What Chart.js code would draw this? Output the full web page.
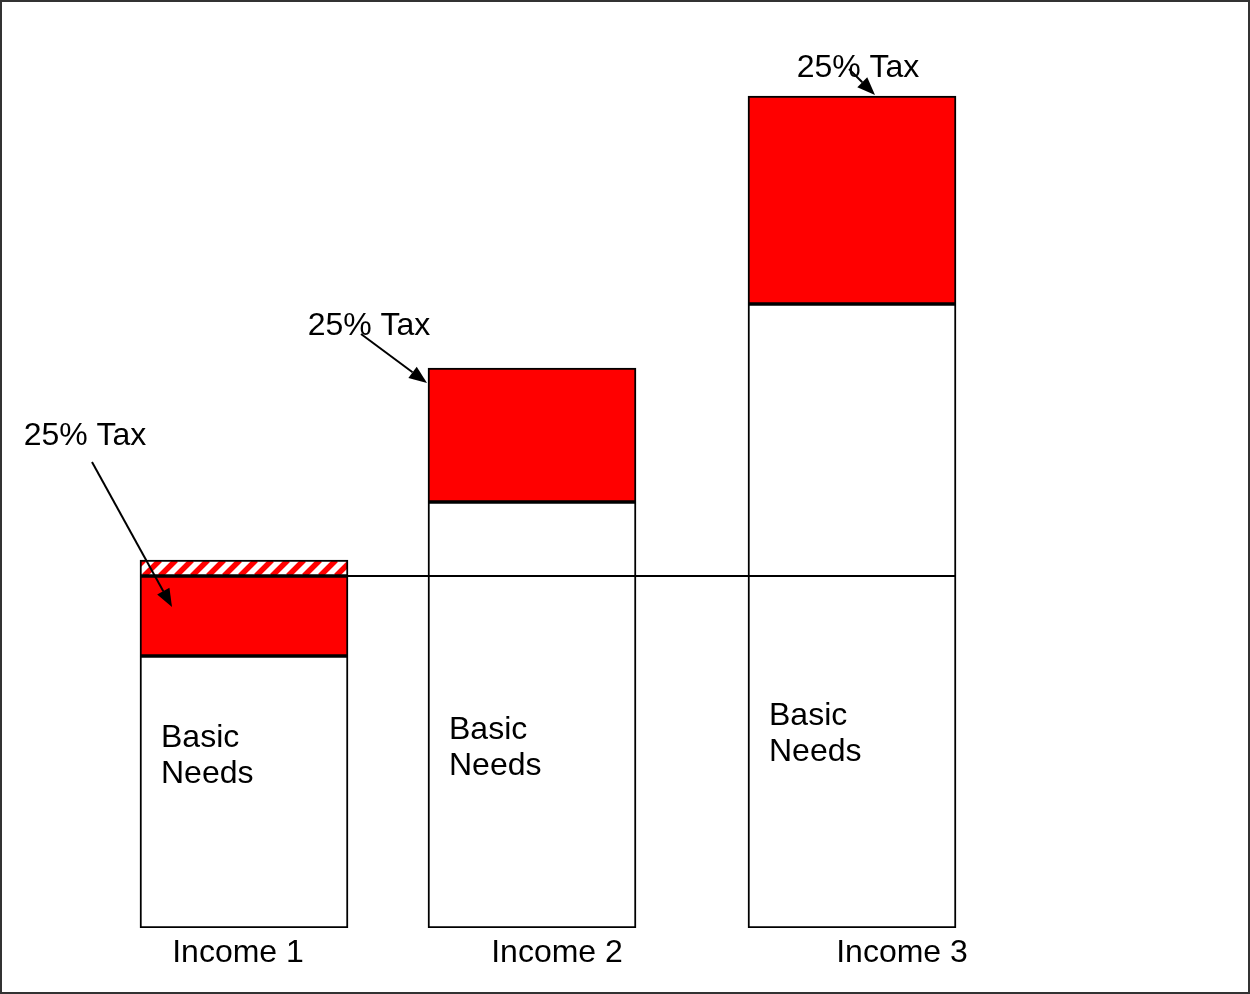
<!DOCTYPE html>
<html><head><meta charset="utf-8">
<script src="https://cdn.jsdelivr.net/npm/chart.js@4/dist/chart.umd.min.js"></script>
<style>html,body{margin:0;padding:0;background:#fff}canvas{display:block}</style>
</head><body>
<canvas id="c" width="1250" height="994"></canvas>
<script>
// ---- data ----
const categories = ['Income 1', 'Income 2', 'Income 3'];
const barPositions = [244, 532, 852];          // x-scale values of bar centers
const basicNeeds = [272, 426, 624];            // white segment
const taxPart = [80, 134, 208];                // red segment
const shortfall = [16, null, null];            // hatched segment
const basicNeedsLevel = 352;                   // horizontal reference line
const taxLabels = ['25% Tax', '25% Tax', '25% Tax'];
const segmentLabel = ['Basic', 'Needs'];

// ---- annotation layout (scale units) ----
const incomeLabelX = [238, 557, 902];
const basicLabelY = [190, 198, 212];
const taxText = [{x: 85, y: 492}, {x: 369, y: 602}, {x: 858, y: 860}];
const taxArrow = [
  {x0: 92, y0: 466, x1: 172, y1: 321},
  {x0: 361, y0: 594, x1: 427, y1: 545},
  {x0: 849, y0: 859, x1: 875, y1: 833}
];

const FONT = '"Liberation Sans", Arial, sans-serif';

function hatch() {
  const p = document.createElement('canvas');
  p.width = 16; p.height = 16;
  const g = p.getContext('2d');
  g.fillStyle = '#fff'; g.fillRect(0, 0, 16, 16);
  g.strokeStyle = '#ff0000'; g.lineWidth = 5.5;
  g.beginPath();
  for (let k = -16; k <= 32; k += 16) { g.moveTo(k, 16); g.lineTo(k + 16, 0); }
  g.stroke();
  return g.createPattern(p, 'repeat');
}

const ctx = document.getElementById('c').getContext('2d');

const overlay = {
  id: 'overlay',
  afterDatasetsDraw(chart) {
    const c = chart.ctx, xs = chart.scales.x, ys = chart.scales.y;
    const X = v => xs.getPixelForValue(v), Y = v => ys.getPixelForValue(v);
    c.save();
    // reference line from first bar left edge to last bar right edge
    const m0 = chart.getDatasetMeta(0).data;
    const left = m0[0].x - m0[0].width / 2, right = m0[2].x + m0[2].width / 2;
    c.strokeStyle = '#000'; c.lineWidth = 2;
    c.beginPath(); c.moveTo(left, Y(basicNeedsLevel)); c.lineTo(right, Y(basicNeedsLevel)); c.stroke();
    // text
    c.fillStyle = '#000'; c.font = '32px ' + FONT; c.textBaseline = 'middle';
    categories.forEach((lab, i) => {
      c.textAlign = 'center';
      c.fillText(lab, X(incomeLabelX[i]), Y(0) + 25);
      const bl = m0[i].x - m0[i].width / 2 + 21;
      c.textAlign = 'left';
      c.fillText(segmentLabel[0], bl, Y(basicLabelY[i]));
      c.fillText(segmentLabel[1], bl, Y(basicLabelY[i]) + 36);
      c.textAlign = 'center';
      c.fillText(taxLabels[i], X(taxText[i].x), Y(taxText[i].y));
    });
    // arrows
    taxArrow.forEach(a => {
      const x0 = X(a.x0), y0 = Y(a.y0), x1 = X(a.x1), y1 = Y(a.y1);
      const ang = Math.atan2(y1 - y0, x1 - x0), L = 18, W = 7;
      const bx = x1 - L * Math.cos(ang), by = y1 - L * Math.sin(ang);
      c.strokeStyle = '#000'; c.lineWidth = 2;
      c.beginPath(); c.moveTo(x0, y0); c.lineTo(bx, by); c.stroke();
      c.beginPath(); c.moveTo(x1, y1);
      c.lineTo(bx + W * Math.sin(ang), by - W * Math.cos(ang));
      c.lineTo(bx - W * Math.sin(ang), by + W * Math.cos(ang));
      c.closePath(); c.fill();
    });
    // page frame
    c.strokeStyle = '#333'; c.lineWidth = 2;
    c.strokeRect(1, 1, chart.width - 2, chart.height - 2);
    c.restore();
  }
};

const mk = arr => arr.map((v, i) => ({x: barPositions[i], y: v}));

new Chart(ctx, {
  type: 'bar',
  data: {
    datasets: [
      {label: 'Basic Needs', data: mk(basicNeeds), backgroundColor: '#ffffff'},
      {label: 'Tax', data: mk(taxPart), backgroundColor: '#ff0000'},
      {label: 'Shortfall', data: mk(shortfall), backgroundColor: hatch()}
    ]
  },
  options: {
    responsive: false,
    animation: false,
    devicePixelRatio: 1,
    layout: {padding: {top: 28, bottom: 66, left: 0, right: 0}},
    datasets: {bar: {barThickness: 208, borderColor: '#000', borderWidth: 2, borderSkipped: false}},
    scales: {
      x: {type: 'linear', min: 0, max: 1250, offset: false, stacked: true, display: false},
      y: {min: 0, max: 900, stacked: true, display: false}
    },
    plugins: {legend: {display: false}, tooltip: {enabled: false}}
  },
  plugins: [overlay]
});
</script>
</body></html>
